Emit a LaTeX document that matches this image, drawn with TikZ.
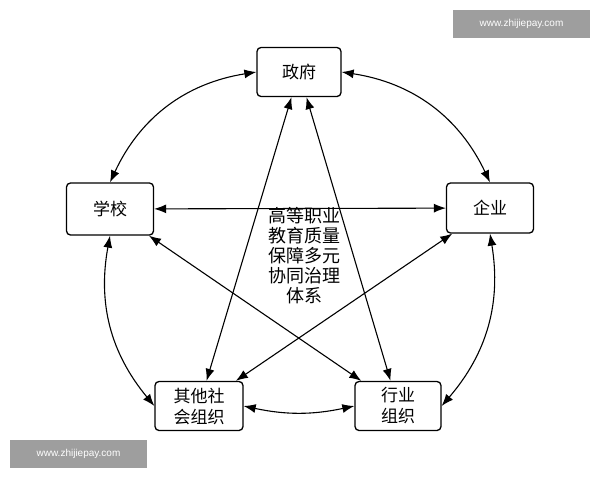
\documentclass[tikz,border=0pt]{standalone}
\usepackage{fontspec}
\newfontfamily\cjk{Noto Sans CJK SC}
\setmainfont{Liberation Sans}
\usetikzlibrary{arrows.meta}
\begin{document}
\begin{tikzpicture}[x=1pt,y=-1pt,
 box/.style={draw,line width=1.3pt,rounded corners=4pt,align=center,font=\cjk\fontsize{17}{21}\selectfont,inner sep=0pt},
 con/.style={line width=1.1pt,{Latex[length=12pt,width=9pt]}-{Latex[length=12pt,width=9pt]}},
 wm/.style={fill=black!38,text=white,font=\fontsize{10}{12}\selectfont,minimum width=137pt,minimum height=28pt,inner sep=0pt}]
\useasboundingbox (0,0) rectangle (600,480);
\node[box,minimum width=84pt,minimum height=49pt] (gov) at (299,72) {政府};
\node[box,minimum width=87pt,minimum height=52pt] (sch) at (110,209) {学校};
\node[box,minimum width=87pt,minimum height=50pt] (ent) at (490,208) {企业};
\node[box,minimum width=88pt,minimum height=49pt] (oth) at (199,406) {其他社\\会组织};
\node[box,minimum width=86pt,minimum height=49pt] (ind) at (398,406) {行业\\组织};
\node[align=center,font=\cjk\fontsize{18}{20}\selectfont] (ctr) at (304,256) {高等职业\\教育质量\\保障多元\\协同治理\\体系};
\draw[con] (gov) -- (oth);
\draw[con] (gov) -- (ind);
\draw[con] (sch) -- (ent);
\draw[con] (sch) -- (ind);
\draw[con] (ent) -- (oth);
\draw[con] (gov.west) to[bend right=28] (sch.north);
\draw[con] (gov.east) to[bend left=28] (ent.north);
\draw[con] (sch.south) to[bend right=25] (oth.west);
\draw[con] (ent.south) to[bend left=25] (ind.east);
\draw[con] (oth.east) to[bend right=12] (ind.west);
\node[wm] (w1) at (521.5,24) {www.zhijiepay.com};
\node[wm] (w2) at (78.5,454) {www.zhijiepay.com};
\end{tikzpicture}
\end{document}
